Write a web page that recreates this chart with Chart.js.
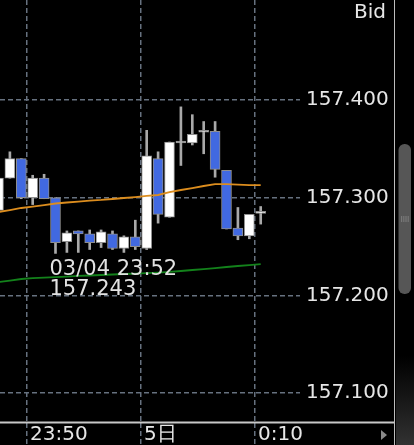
<!DOCTYPE html>
<html>
<head>
<meta charset="utf-8">
<script src="https://cdn.jsdelivr.net/npm/chart.js@4"></script>
<style>
  html, body { margin: 0; padding: 0; background: #000; }
  #wrap { width: 414px; height: 445px; position: relative; }
</style>
</head>
<body>
<div id="wrap"><canvas id="c" width="414" height="445"></canvas></div>
<script>
// 1-minute candles, 03/04 23:47 .. 03/05 0:10
const times = ['23:47', '23:48', '23:49', '23:50', '23:51', '23:52', '23:53', '23:54', '23:55', '23:56', '23:57', '23:58', '23:59',
  '0:00', '0:01', '0:02', '0:03', '0:04', '0:05', '0:06', '0:07', '0:08', '0:09', '0:10'];
const open = [157.287, 157.320, 157.340, 157.300, 157.320, 157.300, 157.255, 157.266, 157.263, 157.254, 157.263, 157.248, 157.260,
  157.248, 157.340, 157.280, 157.356, 157.356, 157.367, 157.368, 157.328, 157.269, 157.261, 157.284];
const high = [157.322, 157.347, 157.340, 157.323, 157.324, 157.300, 157.266, 157.266, 157.267, 157.267, 157.266, 157.261, 157.277,
  157.369, 157.347, 157.357, 157.393, 157.385, 157.378, 157.378, 157.328, 157.290, 157.283, 157.291];
const low = [157.285, 157.320, 157.299, 157.293, 157.299, 157.243, 157.244, 157.244, 157.247, 157.249, 157.247, 157.244, 157.247,
  157.247, 157.274, 157.280, 157.333, 157.354, 157.345, 157.321, 157.268, 157.257, 157.258, 157.273];
const close = [157.320, 157.340, 157.300, 157.320, 157.299, 157.254, 157.264, 157.263, 157.254, 157.265, 157.248, 157.260, 157.250,
  157.343, 157.283, 157.357, 157.357, 157.365, 157.367, 157.329, 157.268, 157.261, 157.283, 157.284];
// moving averages
const maFast = [157.2854, 157.2874, 157.2895, 157.2910, 157.2925, 157.2941, 157.2951, 157.2961, 157.2971, 157.2977, 157.2987, 157.2997, 157.3007,
  157.3018, 157.3028, 157.3058, 157.3079, 157.3099, 157.3120, 157.3140, 157.3140, 157.3135, 157.3130, 157.3130];
const maSlow = [157.2137, 157.2152, 157.2168, 157.2178, 157.2183, 157.2188, 157.2193, 157.2199, 157.2204, 157.2209, 157.2214, 157.2219, 157.2224,
  157.2229, 157.2234, 157.2240, 157.2250, 157.2260, 157.2270, 157.2280, 157.2291, 157.2301, 157.2311, 157.2321];

const priceTicks = [157.1, 157.2, 157.3, 157.4];
const xTickTimes = ['23:50', '0:00', '0:10'];
const xTickLabels = ['23:50', '5日', '0:10'];
const dateLabel = '03/04';

// minutes relative to midnight of the 5th
const toMin = t => {
  const [h, m] = t.split(':').map(Number);
  return h >= 12 ? h * 60 + m - 1440 : h * 60 + m;
};
const xs = times.map(t => toMin(t) + 0.5);

const GRID = '#66717f';
const FONT = 'DejaVu Sans';
Chart.defaults.font.family = FONT;

const bodies = xs.map((x, i) => ({ x, y: [open[i], close[i]] }));
const wicks = xs.map((x, i) => ({ x, y: [low[i], high[i]] }));

const lowIdx = low.indexOf(Math.min(...low));

const decor = {
  id: 'decor',
  afterDraw(chart) {
    const ctx = chart.ctx;
    const xS = chart.scales.x, yS = chart.scales.y;
    ctx.save();
    // bottom axis line
    ctx.strokeStyle = '#c8c8c8';
    ctx.lineWidth = 2;
    ctx.beginPath(); ctx.moveTo(0, 422.5); ctx.lineTo(394, 422.5); ctx.stroke();
    // right panel
    const g = ctx.createLinearGradient(0, 355, 0, 445);
    g.addColorStop(0, 'rgba(45,45,45,0)');
    g.addColorStop(1, 'rgba(50,50,50,1)');
    ctx.fillStyle = g;
    ctx.fillRect(396, 355, 18, 90);
    ctx.strokeStyle = '#bdbdbd';
    ctx.lineWidth = 1;
    ctx.beginPath(); ctx.moveTo(394.5, 0); ctx.lineTo(394.5, 445); ctx.stroke();
    // scrollbar
    ctx.fillStyle = '#565656';
    ctx.beginPath(); ctx.roundRect(398.5, 144, 12.5, 150, 6); ctx.fill();
    ctx.fillStyle = '#9a9a9a';
    for (let k = 0; k < 3; k++) {
      for (let j = 0; j < 4; j++) ctx.fillRect(401 + j * 2.2, 216.5 + k * 2, 1.2, 1);
    }
    // arrow
    ctx.fillStyle = '#8a8a8a';
    ctx.beginPath(); ctx.moveTo(381, 430); ctx.lineTo(387, 435); ctx.lineTo(381, 440); ctx.closePath(); ctx.fill();
    // Bid
    ctx.fillStyle = '#e6e6e6';
    ctx.font = '20px "' + FONT + '"';
    ctx.textAlign = 'right';
    ctx.textBaseline = 'alphabetic';
    ctx.fillText('Bid', 386, 18);
    // lowest price marker
    const lx = xS.getPixelForValue(xs[lowIdx]) - 6;
    const ly = yS.getPixelForValue(low[lowIdx]);
    ctx.textAlign = 'left';
    ctx.font = '21px "' + FONT + '"';
    ctx.fillStyle = '#e2e2e2';
    ctx.fillText(dateLabel + ' ' + times[lowIdx], lx, ly + 22);
    ctx.fillText(low[lowIdx].toFixed(3), lx, ly + 42);
    ctx.restore();
  }
};

new Chart(document.getElementById('c'), {
  type: 'bar',
  data: {
    datasets: [
      { type: 'line', data: xs.map((x, i) => ({ x, y: maFast[i] })), borderColor: '#dc8d1e', borderWidth: 1.8, pointRadius: 0, order: 0 },
      { type: 'line', data: xs.map((x, i) => ({ x, y: maSlow[i] })), borderColor: '#13821b', borderWidth: 1.8, pointRadius: 0, order: 0 },
      {
        data: bodies, barThickness: 10, minBarLength: 2, borderSkipped: false, borderWidth: 1,
        borderColor: '#8e8e8e',
        backgroundColor: close.map((c, i) => c >= open[i] ? '#ffffff' : '#4169e1'),
        grouped: false, order: 1
      },
      { data: wicks, barThickness: 2, backgroundColor: '#a9a9a9', borderWidth: 0, grouped: false, order: 2 }
    ]
  },
  options: {
    responsive: false,
    animation: false,
    devicePixelRatio: 1,
    layout: { padding: { left: 0, right: 19, top: 0, bottom: 0 } },
    plugins: { legend: { display: false }, tooltip: { enabled: false } },
    scales: {
      x: {
        type: 'linear',
        offset: false,
        min: -12.368, max: 13.947,
        afterBuildTicks: s => { s.ticks = xTickTimes.map(t => ({ value: toMin(t) })); },
        afterFit: s => { s.height = 22; s.paddingLeft = 0; s.paddingRight = 0; },
        grid: { offset: false, color: GRID, lineWidth: 1.5, drawTicks: true, tickLength: 22, tickColor: GRID, tickWidth: 1.5, tickBorderDash: [5, 3] },
        border: { display: false, dash: [5, 3] },
        ticks: {
          autoSkip: false, maxRotation: 0, align: 'start', labelOffset: 3, padding: -22,
          color: '#e6e6e6', font: { size: 20 },
          callback: (v, i) => xTickLabels[i]
        }
      },
      y: {
        position: 'right',
        min: 157.0694, max: 157.5024,
        afterBuildTicks: s => { s.ticks = priceTicks.map(v => ({ value: v })); },
        afterFit: s => { s.width = 95; s.paddingTop = 0; s.paddingBottom = 0; },
        grid: { color: GRID, lineWidth: 1.5, drawTicks: false },
        border: { display: false, dash: [5, 3] },
        ticks: { padding: 6, color: '#e6e6e6', font: { size: 20 }, callback: v => v.toFixed(3) }
      }
    }
  },
  plugins: [decor]
});
</script>
</body>
</html>
